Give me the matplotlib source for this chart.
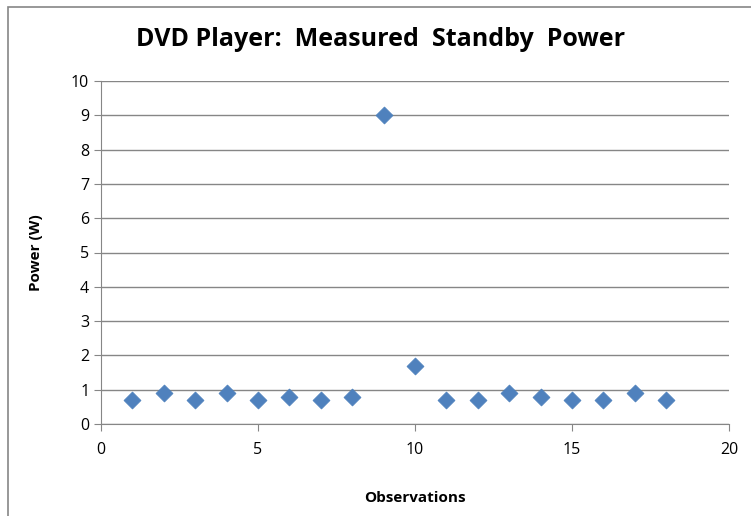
#!/usr/bin/env python3
"""
DVD player standby power scatter
"""
import numpy as np
import matplotlib
matplotlib.use('Agg')
import matplotlib.pyplot as plt
from matplotlib.patches import Rectangle

#--------------------------------------
# Data
#--------------------------------------
observations = list(range(1, 19))
power_w = [0.7, 0.9, 0.7, 0.9, 0.7, 0.8, 0.7, 0.8, 9.0,
           1.7, 0.7, 0.7, 0.9, 0.8, 0.7, 0.7, 0.9, 0.7]
x_ticks = [0, 5, 10, 15, 20]
y_ticks = list(range(0, 11))

plt.rcParams['font.family'] = ['Open Sans', 'DejaVu Sans']
grey = '#868686'

fig = plt.figure(figsize=(7.51, 5.16), dpi=100)

# chart frame (runs off the right and bottom edge)
fig.patches.append(Rectangle((8/751, -0.05), 1.0, 1 - 7/516 + 0.05,
                             transform=fig.transFigure, fill=False,
                             edgecolor=grey, lw=1.2))

ax = fig.add_axes([101/751, 1 - 424/516, 628/751, 343/516])
ax.scatter(observations, power_w, marker='D', s=75, color='#4F81BD',
           edgecolors='#4A7EBB', linewidths=0.5, zorder=3)

ax.set_xlim(0, 20)
ax.set_ylim(0, 10)
ax.set_xticks(x_ticks)
ax.set_yticks(y_ticks)
ax.yaxis.grid(True, color=grey, lw=1.0)
ax.set_axisbelow(True)
for s in ['top', 'right']:
    ax.spines[s].set_visible(False)
for s in ['left', 'bottom']:
    ax.spines[s].set_color(grey)
ax.tick_params(axis='both', colors=grey, length=5, labelcolor='black',
               labelsize=11.5)
ax.tick_params(axis='x', pad=8)

fig.text(381/751, 1 - 40/516, 'DVD Player:  Measured  Standby  Power',
         ha='center', va='center', fontsize=18, fontweight='bold')
ax.set_xlabel('Observations', fontsize=11, fontweight='bold', labelpad=24)
ax.set_ylabel('Power (W)', fontsize=11, fontweight='bold', labelpad=20)

fig.savefig('out.png', dpi=100)
